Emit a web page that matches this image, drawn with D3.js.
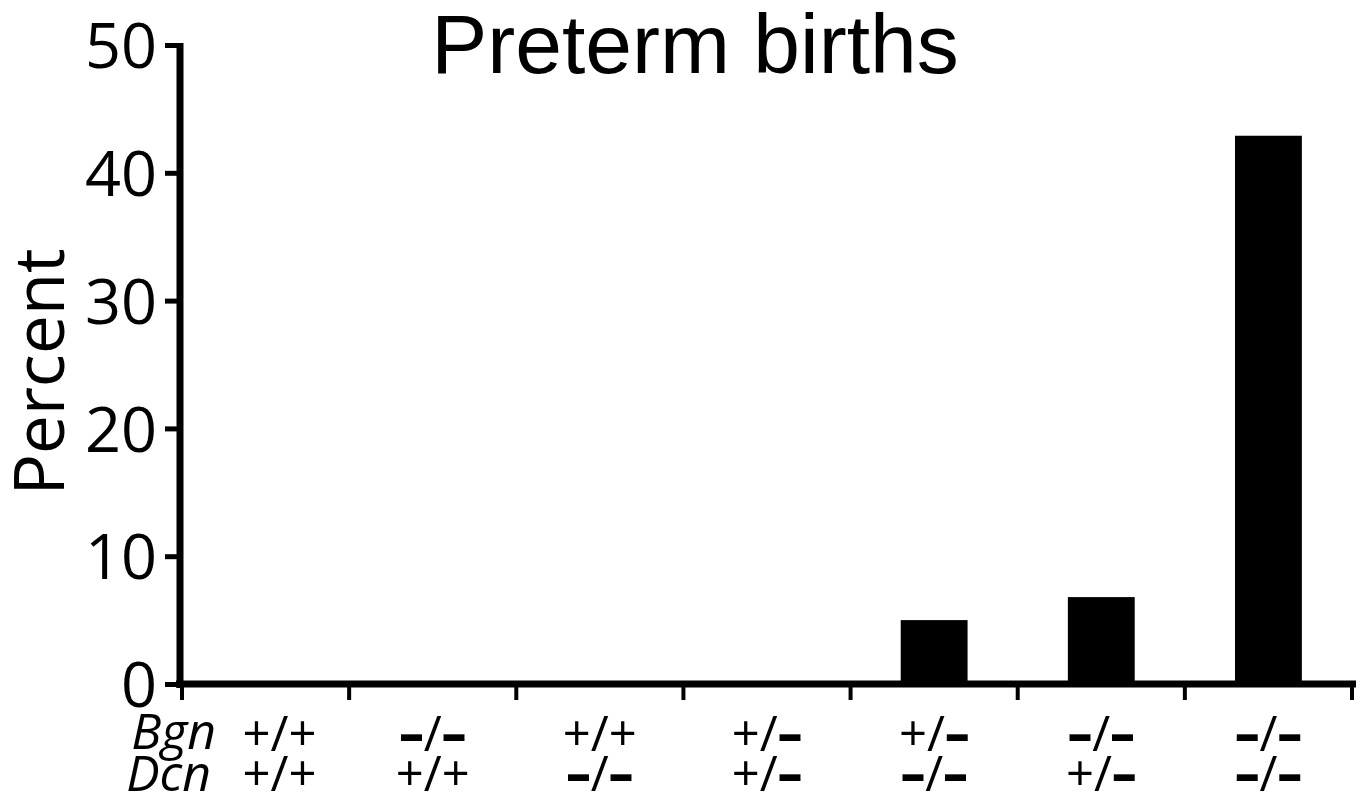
<!DOCTYPE html>
<html><head><meta charset="utf-8">
<script src="https://cdn.jsdelivr.net/npm/d3@7"></script>
<style>body{margin:0;background:#fff}svg{display:block}</style>
</head><body>
<svg id="chart" width="1361" height="804"></svg>
<script>
const categories = ["c1","c2","c3","c4","c5","c6","c7"];
const bgnLabels = ["+/+","-/-","+/+","+/-","+/-","-/-","-/-"];
const dcnLabels = ["+/+","+/+","-/-","+/-","-/-","+/-","-/-"];
const values = [0,0,0,0,5,6.8,42.9];
const yTicks = [0,10,20,30,40,50];

const svg = d3.select("#chart");
const x = d3.scaleBand().domain(categories).range([182,1352]).paddingInner(0.6).paddingOuter(0.3);
const y = d3.scaleLinear().domain([0,50]).range([684,45]);

// bars
svg.selectAll("rect.bar").data(values).join("rect")
  .attr("x",(d,i)=>x(categories[i])).attr("width",x.bandwidth())
  .attr("y",d=>y(d)).attr("height",d=>y(0)-y(d)).attr("fill","#000");

// y axis
const yAxis = svg.append("g").attr("transform","translate(180,0)")
  .call(d3.axisLeft(y).tickValues(yTicks).tickSize(15).tickPadding(8));
yAxis.select(".domain").attr("stroke","#000").attr("stroke-width",7).attr("d",`M0,${y(50)-2}V${y(0)+4}`);
yAxis.selectAll(".tick line").attr("stroke","#000").attr("stroke-width",5);
yAxis.selectAll(".tick text").attr("font-family","Open Sans").attr("font-size",63).attr("fill","#000").attr("dy","0.36em");

// x axis line and band-boundary ticks
const step = x.step();
const bounds = d3.range(categories.length+1).map(k => x.range()[0] + k*step);
svg.append("line").attr("x1",176).attr("x2",1356).attr("y1",y(0)).attr("y2",y(0))
  .attr("stroke","#000").attr("stroke-width",7);
svg.selectAll("line.xt").data(bounds).join("line").attr("class","xt")
  .attr("x1",d=>d).attr("x2",d=>d).attr("y1",y(0)).attr("y2",y(0)+16)
  .attr("stroke","#000").attr("stroke-width",4);

// genotype labels
function geno(sel, labels, yy){
  const t = sel.selectAll(null).data(labels).join("text")
    .attr("x",(d,i)=>x(categories[i])+x.bandwidth()/2 + (i===0?14:0)).attr("y",yy)
    .attr("text-anchor","middle").attr("font-family","Open Sans").attr("font-size",49).attr("fill","#000");
  t.each(function(d){
    const el = d3.select(this);
    for (const ch of d){
      if (ch === "-") el.append("tspan").attr("font-weight",800).text("\u2013");
      else el.append("tspan").text(ch);
    }
  });
}
geno(svg.append("g"), bgnLabels, 751);
geno(svg.append("g"), dcnLabels, 791);
svg.append("text").attr("x",216).attr("y",749).attr("text-anchor","end")
  .attr("font-family","Open Sans").attr("font-style","italic").attr("font-size",50).text("Bgn");
svg.append("text").attr("x",211).attr("y",791).attr("text-anchor","end")
  .attr("font-family","Open Sans").attr("font-style","italic").attr("font-size",50).text("Dcn");

// title
svg.append("text").attr("x",695).attr("y",73).attr("text-anchor","middle")
  .attr("font-family","Liberation Sans").attr("font-size",84).attr("fill","#000").text("Preterm births");

// y label
svg.append("text").attr("transform","translate(64,372) rotate(-90)").attr("text-anchor","middle")
  .attr("font-family","Open Sans").attr("font-size",69).attr("fill","#000").text("Percent");
</script>
</body></html>
